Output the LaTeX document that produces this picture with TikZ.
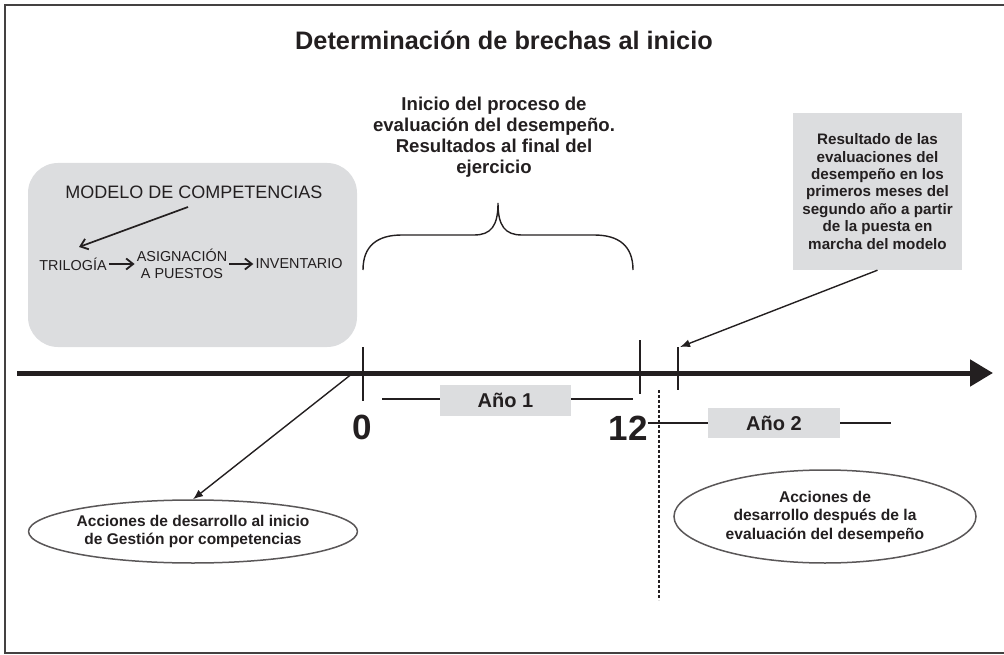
\documentclass[tikz,border=0pt]{standalone}
\usepackage{fontspec}
\setmainfont{Liberation Sans}
\usetikzlibrary{arrows.meta,shapes.geometric}
\definecolor{ink}{RGB}{35,31,32}
\definecolor{boxgray}{RGB}{220,221,223}
\begin{document}
\begin{tikzpicture}[x=1pt,y=-1pt,
  thinline/.style={draw=ink, line width=1.4pt},
  arr/.style={thinline, -{Latex[length=10pt,width=8pt]}},
  barb/.style={draw=ink, line width=1.7pt, -{Straight Barb[length=7pt,width=11pt,line width=1.8pt]}},
  tickline/.style={draw=ink, line width=2pt},
  graybox/.style={fill=boxgray, draw=none, inner sep=0pt, text=ink},
  ell/.style={ellipse, draw=ink!75, line width=1.5pt, fill=white, inner sep=0pt, align=center, text=ink},
  plain/.style={inner sep=2pt, text=ink, align=center}
]
\useasboundingbox (0,0) rectangle (1004,655);

% frame
\draw[draw=ink!85, line width=1.5pt] (1010,5) -- (5,5) -- (5,653) -- (1010,653);

% title
\node[plain, font=\bfseries\fontsize{25.3}{30}\selectfont] (title) at (504,40) {Determinación de brechas al inicio};

% left rounded box
\node[graybox, rounded corners=30pt, minimum width=329pt, minimum height=184pt] (modelbox) at (192.5,255) {};
\node[plain, font=\fontsize{18}{21}\selectfont] (model) at (194,192) {MODELO DE COMPETENCIAS};
\node[plain, font=\fontsize{14.4}{17}\selectfont] (tri) at (73,264) {TRILOGÍA};
\node[plain, font=\fontsize{14.4}{17}\selectfont] (asig) at (182,263.5) {ASIGNACIÓN\\A PUESTOS};
\node[plain, font=\fontsize{14.4}{17}\selectfont] (inv) at (299,264) {INVENTARIO};
\coordinate (m1) at (188,207);
\coordinate (m2) at (79,247);
\draw[barb] (m1) -- (m2);
\draw[barb] (tri.east) -- (asig.west |- tri.east);
\draw[barb] (asig.east |- inv.west) -- (inv.west);

% brace text and brace
\node[plain, font=\bfseries\fontsize{18.6}{21}\selectfont] (bracetxt) at (494,137)
  {Inicio del proceso de\\evaluación del desempeño.\\Resultados al final del\\ejercicio};
\coordinate (bl) at (363,270);
\coordinate (btip) at (498,203);
\coordinate (br) at (633,270);
\draw[thinline] (bl) .. controls (363,246) and (377,235) .. (402,235) -- (474,235)
  .. controls (491,235) and (498,226) .. (btip)
  .. controls (498,226) and (505,235) .. (522,235) -- (594,235)
  .. controls (619,235) and (633,246) .. (br);

% right gray box
\node[graybox, minimum width=169pt, minimum height=157pt, align=center,
  font=\bfseries\fontsize{15.2}{17.4}\selectfont] (res) at (877.5,191.5)
  {Resultado de las\\evaluaciones del\\desempeño en los\\primeros meses del\\segundo año a partir\\de la puesta en\\marcha del modelo};

% axis
\coordinate (ax0) at (17,373);
\coordinate (ax1) at (993,373);
\draw[draw=ink, line width=5pt, -{Triangle[length=23pt,width=26pt]}] (ax0) -- (ax1);

% ticks
\coordinate (t0a) at (363,347); \coordinate (t0b) at (363,401);
\coordinate (t12a) at (640,340); \coordinate (t12b) at (640,394);
\coordinate (t2a) at (678,347); \coordinate (t2b) at (678,390);
\draw[tickline] (t0a) -- (t0b);
\draw[tickline] (t12a) -- (t12b);
\draw[tickline] (t2a) -- (t2b);

% labels 0 and 12
\node[inner sep=0pt, text=ink, font=\bfseries\fontsize{35}{40}\selectfont] (lbl0) at (362,427) {0};
\node[inner sep=0pt, text=ink, font=\bfseries\fontsize{35}{40}\selectfont] (lbl12) at (628,428) {12};

% year boxes
\node[graybox, minimum width=131pt, minimum height=31pt, font=\bfseries\fontsize{20}{24}\selectfont] (yr1) at (505.5,400.5) {Año 1};
\node[graybox, minimum width=132pt, minimum height=30pt, font=\bfseries\fontsize{20}{24}\selectfont] (yr2) at (774,423) {Año 2};
\coordinate (y1a) at (382,399);
\coordinate (y1b) at (633,399);
\draw[thinline] (y1a) -- (yr1.west |- y1a);
\draw[thinline] (yr1.east |- y1b) -- (y1b);
\coordinate (y2b) at (891,423);
\draw[thinline] (lbl12.east |- yr2.west) -- (yr2.west);
\draw[thinline] (yr2.east) -- (y2b);

% dashed divider
\coordinate (da) at (659,390);
\coordinate (db) at (659,600);
\draw[draw=ink, line width=1.3pt, dash pattern=on 3pt off 2pt] (da) -- (db);

% ellipses
\node[ell, minimum width=302pt, minimum height=63pt, font=\bfseries\fontsize{15.5}{18}\selectfont] (ell1) at (193,531.5)
  {Acciones de desarrollo al inicio\\de Gestión por competencias};
\node[ell, minimum width=302pt, minimum height=93pt, font=\bfseries\fontsize{15.6}{18.5}\selectfont] (ell2) at (825,516.5)
  {Acciones de\\desarrollo después de la\\evaluación del desempeño};

% arrows
\coordinate (a0) at (353,373);
\draw[arr] (a0) -- (ell1.north);
\coordinate (a2) at (680,347);
\draw[arr] (res.south) -- (a2);
\end{tikzpicture}
\end{document}
